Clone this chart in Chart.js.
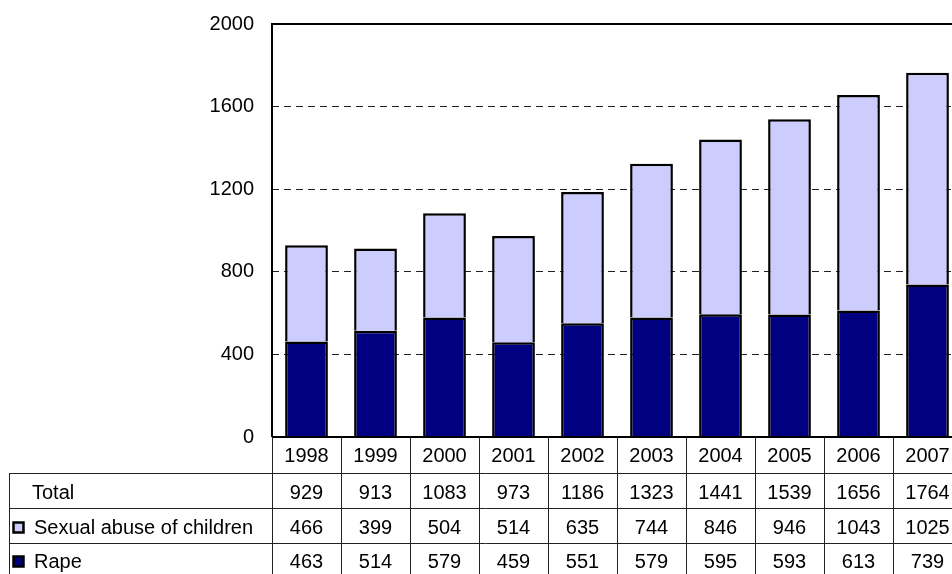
<!DOCTYPE html>
<html>
<head>
<meta charset="utf-8">
<script src="https://cdn.jsdelivr.net/npm/chart.js@4.4.1/dist/chart.umd.min.js"></script>
<style>
  html, body { margin: 0; padding: 0; overflow: hidden; background: #fff; }
  #wrap { position: absolute; left: 0; top: 0; width: 975px; height: 574px; }
</style>
</head>
<body>
<div id="wrap"><canvas id="chart" width="975" height="574"></canvas></div>
<script>
const years = ["1998", "1999", "2000", "2001", "2002", "2003", "2004", "2005", "2006", "2007"];
const total = [929, 913, 1083, 973, 1186, 1323, 1441, 1539, 1656, 1764];
const abuse = [466, 399, 504, 514, 635, 744, 846, 946, 1043, 1025];
const rape = [463, 514, 579, 459, 551, 579, 595, 593, 613, 739];
const yTicks = [0, 400, 800, 1200, 1600, 2000];

const FONT = "20px 'Liberation Sans', Arial, sans-serif";
const navy = "#000080";
const lilac = "#CCCCFF";

// frame + data table under the plot
const tablePlugin = {
  id: "table",
  afterDraw(chart) {
    const ctx = chart.ctx;
    const x = chart.scales.x;
    const a = chart.chartArea;
    const colW = (a.right - a.left) / years.length;

    ctx.save();
    // plot frame
    ctx.strokeStyle = "#000";
    ctx.lineWidth = 2;
    ctx.beginPath();
    ctx.moveTo(a.left, a.bottom);
    ctx.lineTo(a.left, a.top);
    ctx.lineTo(a.right, a.top);
    ctx.lineTo(a.right, a.bottom);
    ctx.lineTo(a.left, a.bottom);
    ctx.stroke();

    // table lines
    ctx.strokeStyle = "#222";
    ctx.lineWidth = 1;
    ctx.beginPath();
    [473, 508, 543].forEach(y => {
      ctx.moveTo(9, y + 0.5);
      ctx.lineTo(a.right, y + 0.5);
    });
    ctx.moveTo(9.5, 473);
    ctx.lineTo(9.5, 574);
    for (let i = 0; i <= years.length; i++) {
      const xx = Math.round(a.left + i * colW) + 0.5;
      ctx.moveTo(xx, a.bottom);
      ctx.lineTo(xx, 574);
    }
    ctx.stroke();

    // text
    ctx.fillStyle = "#000";
    ctx.font = FONT;
    ctx.textBaseline = "alphabetic";
    ctx.textAlign = "center";
    const rows = [[years, 462], [total, 499], [abuse, 534], [rape, 568]];
    rows.forEach(([vals, base]) => {
      vals.forEach((v, i) => {
        ctx.fillText(String(v), x.getPixelForValue(i), base);
      });
    });

    ctx.textAlign = "left";
    ctx.fillText("Total", 32, 499);
    ctx.fillText(chart.data.datasets[1].label, 34, 534);
    ctx.fillText(chart.data.datasets[0].label, 34, 568);

    // legend swatches
    [[lilac, 522], [navy, 556]].forEach(([c, y]) => {
      ctx.fillStyle = c;
      ctx.fillRect(13, y, 11, 11);
      ctx.strokeStyle = "#000";
      ctx.lineWidth = 2.5;
      ctx.strokeRect(13.5, y + 0.5, 10, 10);
    });
    ctx.restore();
  }
};

new Chart(document.getElementById("chart"), {
  type: "bar",
  plugins: [tablePlugin],
  data: {
    labels: years,
    datasets: [
      {
        label: "Rape",
        data: rape,
        backgroundColor: navy,
        borderColor: "#000",
        borderWidth: 2.5,
        categoryPercentage: 1,
        barPercentage: 0.62,
      },
      {
        label: "Sexual abuse of children",
        data: abuse,
        backgroundColor: lilac,
        borderColor: "#000",
        borderWidth: 2.5,
        categoryPercentage: 1,
        barPercentage: 0.62,
      },
    ],
  },
  options: {
    responsive: false,
    animation: false,
    layout: { padding: { left: 0, top: 24, right: 13, bottom: 137 } },
    plugins: {
      legend: { display: false },
      tooltip: { enabled: false },
    },
    scales: {
      x: {
        stacked: true,
        display: false,
      },
      y: {
        stacked: true,
        min: 0,
        max: 2000,
        afterFit: (scale) => {
          scale.width = 272;
          scale.paddingTop = 0;
          scale.paddingBottom = 0;
        },
        afterBuildTicks: (scale) => { scale.ticks = yTicks.map(v => ({ value: v })); },
        border: { display: false, dash: [7, 5] },
        grid: {
          drawTicks: false,
          color: (c) => (c.tick && (c.tick.value === 0 || c.tick.value === 2000)) ? "rgba(0,0,0,0)" : "#222",
          lineWidth: 1,
        },
        ticks: {
          color: "#000",
          padding: 18,
          callback: (v) => String(v),
          font: { family: "'Liberation Sans', Arial, sans-serif", size: 20 },
        },
      },
    },
  },
});
</script>
</body>
</html>
